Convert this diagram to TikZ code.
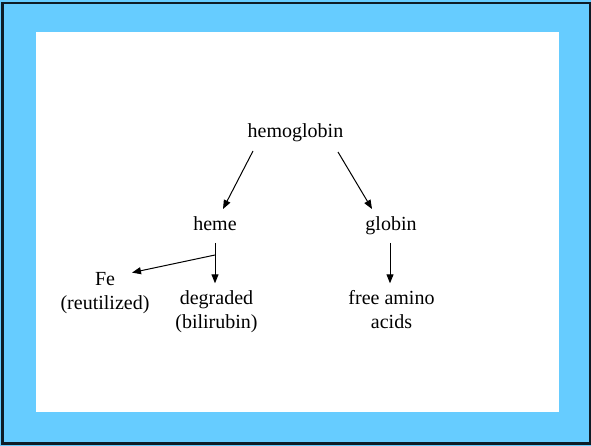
\documentclass[tikz,border=0pt]{standalone}
\usepackage{fontspec}
\setmainfont{Liberation Serif}
\usepackage{xcolor}
\usetikzlibrary{arrows.meta}
\definecolor{slideblue}{HTML}{66CCFF}
\definecolor{slideedge}{HTML}{0E1C26}

\begin{document}
\begin{tikzpicture}[x=1pt,y=-1pt,
  lbl/.style={inner sep=0pt,font=\fontsize{20}{24}\selectfont},
  arr/.style={-{Triangle[length=9pt,width=7pt]},line width=1pt}]
\useasboundingbox (0,0) rectangle (591,446);
\fill[slideblue] (0,0) rectangle (591,446);
\draw[slideedge,line width=2.5pt] (2.5,3.2) rectangle (589.8,443.5);
\fill[white] (36,32) rectangle (559,412);

\node[lbl,anchor=base] (hemo) at (295.5,138) {hemoglobin};
\node[lbl,anchor=base] (heme) at (215,231) {heme};
\node[lbl,anchor=base] (globin) at (391,231) {globin};
\node[lbl,anchor=north,align=center] (fe) at (105,272.6) {Fe\\(reutilized)};
\node[lbl,anchor=north,align=center] (degr) at (216.5,290.3) {degraded\\(bilirubin)};
\node[lbl,anchor=north,align=center] (amino) at (391.5,290.3) {free amino\\acids};

\draw[arr] ([shift={(-42.5,13)}]hemo.base) -- ([shift={(8,-22)}]heme.base);
\draw[arr] ([shift={(42.5,14)}]hemo.base) -- ([shift={(-19,-22)}]globin.base);

\coordinate (split) at ([shift={(0,24)}]heme.base);
\draw[arr,shorten >=7pt] ([shift={(0,12)}]heme.base) -- (heme.base |- degr.north);
\draw[arr] (split) -- ([shift={(27,0)}]fe.north);
\draw[arr,shorten >=7pt] ([shift={(-1,12)}]globin.base) -- ([xshift=-1pt]globin.base |- amino.north);
\end{tikzpicture}
\end{document}
